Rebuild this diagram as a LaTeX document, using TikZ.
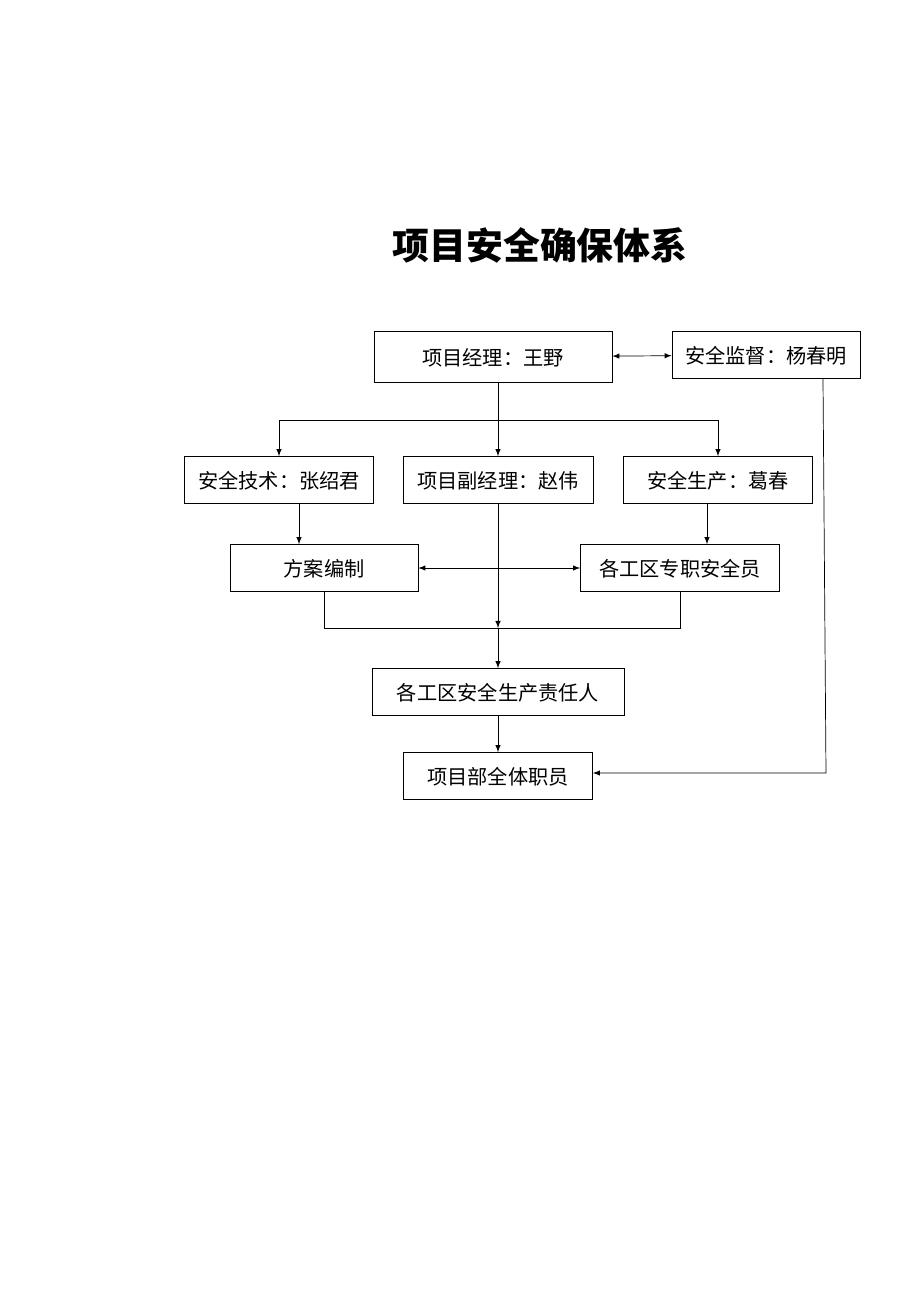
\documentclass[tikz,border=0pt]{standalone}
\usepackage{fontspec}
\newfontfamily\cjk{Noto Sans CJK SC}
\usetikzlibrary{positioning}
\begin{document}
\begin{tikzpicture}[x=0.02cm,y=-0.02cm,
	box/.style={draw,thin,inner sep=0pt,text depth=-0.15cm,font=\cjk\fontsize{11.5}{13}\selectfont},
	arr/.style={thin,-{latex[scale=1.3]}}]
	\useasboundingbox (0,0) rectangle (920,1302);
	\node[font=\cjk\bfseries\fontsize{21}{24}\selectfont] (title) at (540,245) {项目安全确保体系};
	
	\node[box,minimum width=238*0.02cm,minimum height=51*0.02cm] (pm) at (493,357) {项目经理：王野};
	\node[box,minimum width=188*0.02cm,minimum height=47*0.02cm] (sup) at (766,355) {安全监督：杨春明};
	\node[box,minimum width=189*0.02cm,minimum height=47*0.02cm] (tech) at (279,480) {安全技术：张绍君};
	\node[box,minimum width=190*0.02cm,minimum height=47*0.02cm] (dep) at (498,480) {项目副经理：赵伟};
	\node[box,minimum width=189*0.02cm,minimum height=47*0.02cm] (prod) at (718,480) {安全生产：葛春};
	\node[box,minimum width=188*0.02cm,minimum height=47*0.02cm] (plan) at (324,568) {方案编制};
	\node[box,minimum width=199*0.02cm,minimum height=47*0.02cm] (off) at (680,568) {各工区专职安全员};
	\node[box,minimum width=252*0.02cm,minimum height=47*0.02cm] (resp) at (498,692) {各工区安全生产责任人};
	\node[box,minimum width=189*0.02cm,minimum height=47*0.02cm] (all) at (498,776) {项目部全体职员};
	
	\coordinate (split) at (498,420);
	\coordinate (join) at (498,628);
	\coordinate (side) at (826,773);
	
	\draw[thin,{latex[scale=1.3]}-{latex[scale=1.3]}] (pm) -- (sup);
	\draw[thin] (pm.south -| split) -- (split);
	\draw[arr] (split) -| (tech.north);
	\draw[arr] (split) -- (dep.north);
	\draw[arr] (split) -| (prod.north);
	\draw[arr] (tech.south -| 299,0) -- (plan.north -| 299,0);
	\draw[arr] (prod.south -| 707,0) -- (off.north -| 707,0);
	\draw[thin,{latex[scale=1.3]}-{latex[scale=1.3]}] (plan) -- (off);
	\draw[arr] (dep) -- (join);
	\draw[arr] (join) -- (resp);
	\draw[thin] (plan.south) |- (join) -| (off.south);
	\draw[arr] (resp) -- (all);
	\draw[arr] (sup.south -| 823,0) -- (side) -- (all.east |- side);
\end{tikzpicture}
\end{document}
